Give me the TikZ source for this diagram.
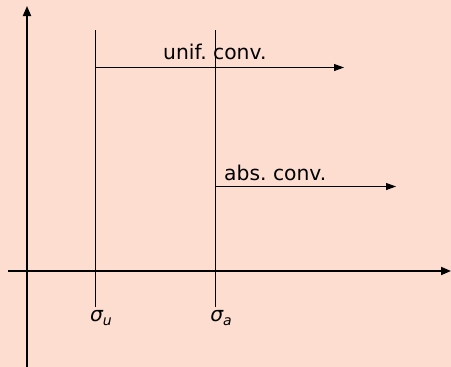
\documentclass[tikz,border=0pt]{standalone}
\usepackage{fontspec}
\setmainfont{DejaVu Sans}
\usetikzlibrary{arrows.meta}
\frenchspacing
\definecolor{bgpeach}{RGB}{253,221,208}
\tikzset{
  axis/.style={line width=1.8pt,-{Triangle[length=10pt,width=8pt]}},
  thinline/.style={line width=1pt},
  convarrow/.style={line width=1pt,-{Triangle[length=10pt,width=7pt]}},
  lbl/.style={inner sep=0pt,anchor=base west,font=\fontsize{20.3}{24}\selectfont},
  siglbl/.style={inner sep=0pt,anchor=base,font=\fontsize{20.3}{24}\selectfont\itshape}
}
\newcommand{\sublow}[1]{\raisebox{-4pt}{\fontsize{14}{14}\selectfont #1}}
\begin{document}
\begin{tikzpicture}[x=1pt,y=-1pt]
\fill[bgpeach] (0,0) rectangle (451,367);
\useasboundingbox (0,0) rectangle (451,367);
% axes
\coordinate (yb) at (27,367);
\coordinate (yt) at (27,6);
\coordinate (xl) at (8,271);
\coordinate (xr) at (451,271);
\draw[axis] (yb) -- (yt);
\draw[axis] (xl) -- (xr);
% vertical lines
\coordinate (ut) at (95.5,30);
\coordinate (ub) at (95.5,307);
\coordinate (at) at (215.5,30);
\coordinate (ab) at (215.5,307);
\draw[thinline] (ut) -- (ub);
\draw[thinline] (at) -- (ab);
% convergence arrows
\coordinate (us) at (95.5,67.5);
\coordinate (ue) at (344,67.5);
\coordinate (as) at (215.5,186.5);
\coordinate (ae) at (396,186.5);
\draw[convarrow] (us) -- (ue);
\draw[convarrow] (as) -- (ae);
\node[lbl] (unif) at (163,59) {unif. conv.};
\node[lbl] (abs) at (224,180) {abs. conv.};
\node[siglbl] (su) at (101,321.5) {σ\sublow{u}};
\node[siglbl] (sa) at (221,321.5) {σ\sublow{a}};
\end{tikzpicture}
\end{document}
